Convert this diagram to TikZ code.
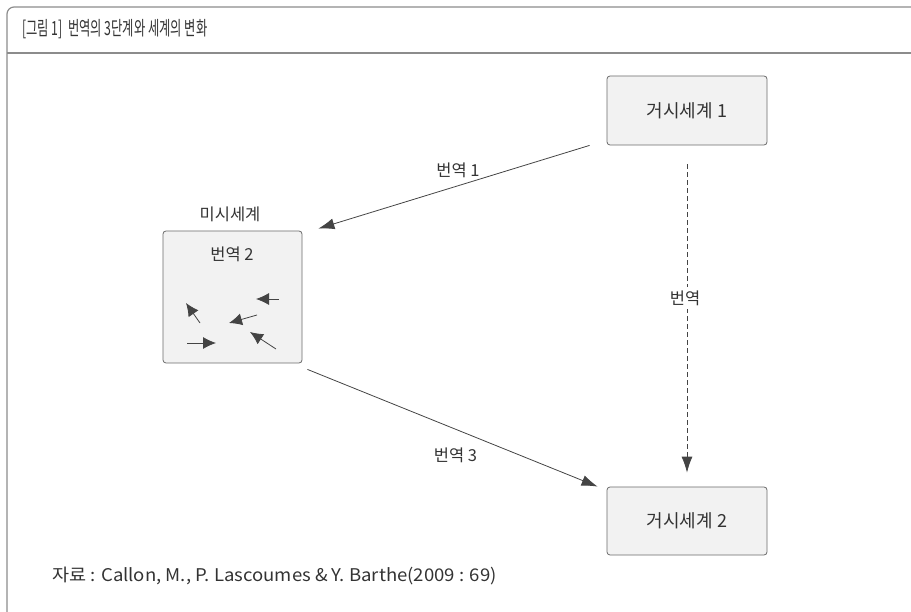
\documentclass[tikz,border=0pt]{standalone}
\usepackage{fontspec}
\newfontfamily\kr{Noto Sans CJK KR}
\newfontfamily\krt[FakeStretch=0.63]{Noto Sans CJK KR}
\newfontfamily\krf[FakeStretch=1.06]{Noto Sans CJK KR}
\usetikzlibrary{arrows.meta,calc}
\definecolor{boxfill}{HTML}{F2F2F2}
\definecolor{boxline}{HTML}{6A6A6A}
\definecolor{arr}{HTML}{444444}
\definecolor{txt}{HTML}{333333}
\definecolor{frame}{HTML}{8C8C8C}
\tikzset{
  box/.style={draw=boxline, fill=boxfill, rounded corners=3pt, line width=0.8pt, inner sep=0pt, font=\kr\fontsize{18}{21}\selectfont, text=txt},
  lbl/.style={font=\kr\fontsize{16.5}{20}\selectfont, text=txt, inner sep=1pt},
  conn/.style={draw=arr, line width=0.8pt, -{Latex[length=16pt,width=11pt]}},
  small/.style={draw=arr, line width=0.8pt, -{Latex[length=13pt,width=12pt]}},
}
\begin{document}
\begin{tikzpicture}[x=1pt,y=-1pt]
\useasboundingbox (0,0) rectangle (911,612);
% frame
\draw[frame, line width=1.2pt, rounded corners=7pt] (911,7) -- (7,7) -- (7,612);
\draw[frame, line width=1.2pt] (7,53) -- (911,53);
\node[anchor=west, font=\krt\fontsize{19.5}{22}\selectfont, text=txt, inner sep=0pt] (title) at (22,29) {[그림 1]\ \ 번역의 3단계와 세계의 변화};
% boxes
\node[box, minimum width=160pt, minimum height=69pt] (m1) at (687,110.5) {거시세계 1};
\node[box, minimum width=160pt, minimum height=68pt] (m2) at (687,521) {거시세계 2};
\node[box, minimum width=139pt, minimum height=132pt] (mic) at (232.5,297) {};
\node[lbl] (miclbl) at (230,214) {미시세계};
\node[lbl] (t2) at (232,254) {번역 2};
% small arrows inside micro box
\coordinate (s1a) at (279,299); \coordinate (s1b) at (256,299);
\coordinate (s2a) at (257,315); \coordinate (s2b) at (229,323);
\coordinate (s3a) at (200,323); \coordinate (s3b) at (186,303);
\coordinate (s4a) at (187,343); \coordinate (s4b) at (216,343);
\coordinate (s5a) at (276,349); \coordinate (s5b) at (250,332);
\draw[small] (s1a) -- (s1b);
\draw[small] (s2a) -- (s2b);
\draw[small] (s3a) -- (s3b);
\draw[small] (s4a) -- (s4b);
\draw[small] (s5a) -- (s5b);
% connectors
\draw[conn] ($(m1.south west)+(-17,0)$) -- node[lbl, pos=0.5, above=8pt, xshift=4pt] (t1) {번역 1} ($(mic.north east)+(16,-2)$);
\draw[conn] ($(mic.south east)+(5,6)$) -- node[lbl, pos=0.5, below=18pt, xshift=3pt] (t3) {번역 3} ($(m2.north west)+(-9,0)$);
\draw[conn, dashed, dash pattern=on 5pt off 3pt] ($(m1.south)+(0,19)$) -- ($(m2.north)+(0,-14)$);
\node[lbl, fill=white, inner sep=4pt] (tm) at (685,298) {번역};
% source
\node[anchor=west, font=\krf\fontsize{17.5}{20}\selectfont, text=txt, inner sep=0pt] (src) at (52,576) {자료 : Callon, M., P. Lascoumes \& Y. Barthe(2009 : 69)};
\end{tikzpicture}
\end{document}
